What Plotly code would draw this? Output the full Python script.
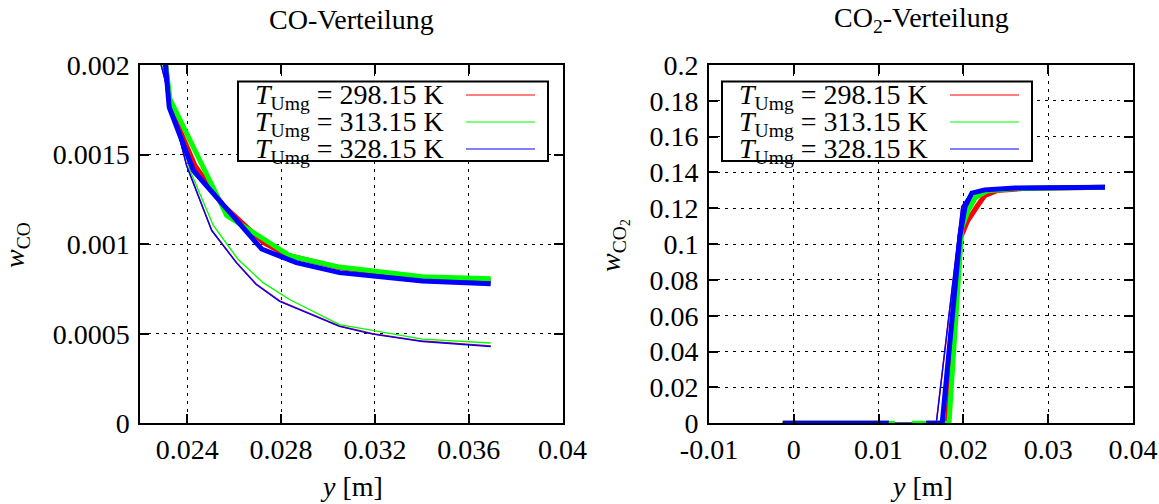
import plotly.graph_objects as go

W, H = 1159, 504

# ---------------- data: CO distribution (left) ----------------
co_thin_red_x   = [0.0225, 0.02397, 0.02504, 0.02609, 0.02694, 0.02794, 0.03049, 0.03191, 0.03403, 0.03694]
co_thin_red_y   = [0.0022, 0.001440, 0.001078, 0.000899, 0.000777, 0.000683, 0.000543, 0.000500, 0.000459, 0.000432]
co_thin_green_x = [0.0225, 0.02412, 0.02511, 0.02616, 0.02723, 0.02836, 0.03049, 0.03403, 0.03694]
co_thin_green_y = [0.0022, 0.001410, 0.001104, 0.000916, 0.000785, 0.000691, 0.000551, 0.000470, 0.000448]
co_thin_blue_x  = [0.0225, 0.02397, 0.02504, 0.02609, 0.02694, 0.02794, 0.03049, 0.03191, 0.03403, 0.03694]
co_thin_blue_y  = [0.0022, 0.001438, 0.001076, 0.000897, 0.000775, 0.000681, 0.000541, 0.000498, 0.000457, 0.000429]

co_thick_red_x   = [0.0228, 0.02325, 0.02433, 0.02554, 0.02724, 0.02822, 0.03049, 0.03403, 0.03694]
co_thick_red_y   = [0.0024, 0.001770, 0.001438, 0.001215, 0.001010, 0.000940, 0.000869, 0.000810, 0.000794]
co_thick_green_x = [0.0227, 0.02326, 0.02568, 0.02838, 0.03049, 0.03403, 0.03694]
co_thick_green_y = [0.0024, 0.001810, 0.001160, 0.000935, 0.000872, 0.000818, 0.000807]
co_thick_blue_x  = [0.0228, 0.02323, 0.02426, 0.02717, 0.02865, 0.03049, 0.03403, 0.03694]
co_thick_blue_y  = [0.0024, 0.001763, 0.001410, 0.000973, 0.000897, 0.000841, 0.000794, 0.000779]

# ---------------- data: CO2 distribution (right) ----------------
co2_thin_red_x   = [-0.0013, 0.0168, 0.0198, 0.0206, 0.0215, 0.0235, 0.0270, 0.0367]
co2_thin_red_y   = [0, 0, 0.120, 0.1262, 0.1288, 0.1302, 0.1312, 0.1318]
co2_thin_green_x = [-0.0013, 0.0183, 0.0198, 0.0207, 0.0217, 0.0235, 0.0270, 0.0367]
co2_thin_green_y = [0, 0, 0.110, 0.122, 0.127, 0.1300, 0.1310, 0.1318]
co2_thin_blue_x  = [-0.0013, 0.0168, 0.0198, 0.0206, 0.0215, 0.0235, 0.0270, 0.0367]
co2_thin_blue_y  = [0, 0, 0.121, 0.1266, 0.1290, 0.1303, 0.1312, 0.1318]

co2_thick_red_x   = [-0.0013, 0.0112, None, 0.0156, 0.0181, 0.0197, 0.0205, 0.0216, 0.0225, 0.0240, 0.0270, 0.0367]
co2_thick_red_y   = [0, 0, None, 0, 0, 0.104, 0.113, 0.121, 0.127, 0.1300, 0.1310, 0.1317]
co2_thick_green_x = [-0.0013, 0.0119, None, 0.0139, 0.0183, 0.0198, 0.0205, 0.0214, 0.0228, 0.0260, 0.0300, 0.0367]
co2_thick_green_y = [0, 0, None, 0, 0, 0.109, 0.118, 0.126, 0.1298, 0.1310, 0.1315, 0.1318]
co2_thick_blue_x  = [-0.0013, 0.0112, None, 0.0156, 0.0175, 0.0196, 0.0202, 0.0210, 0.0225, 0.0261, 0.0300, 0.0367]
co2_thick_blue_y  = [0, 0, None, 0, 0, 0.105, 0.121, 0.1285, 0.1303, 0.1313, 0.1316, 0.1318]

# ---------------- ticks / labels ----------------
co_xticks = [0.024, 0.028, 0.032, 0.036, 0.04]
co_xtext = ["0.024", "0.028", "0.032", "0.036", "0.04"]
co_yticks = [0, 0.0005, 0.001, 0.0015, 0.002]
co_ytext = ["0", "0.0005", "0.001", "0.0015", "0.002"]
co2_xticks = [-0.01, 0, 0.01, 0.02, 0.03, 0.04]
co2_xtext = ["-0.01", "0", "0.01", "0.02", "0.03", "0.04"]
co2_yticks = [0, 0.02, 0.04, 0.06, 0.08, 0.1, 0.12, 0.14, 0.16, 0.18, 0.2]
co2_ytext = ["0", "0.02", "0.04", "0.06", "0.08", "0.1", "0.12", "0.14", "0.16", "0.18", "0.2"]

legend_labels = ["<i>T</i><sub>Umg</sub> = 298.15 K",
                 "<i>T</i><sub>Umg</sub> = 313.15 K",
                 "<i>T</i><sub>Umg</sub> = 328.15 K"]
colors = ["#ff0000", "#00ff00", "#0000ff"]

FONT = "Liberation Serif"
FS = 28
THICK = 5
THIN = 1.4

fig = go.Figure()

def add(x, y, color, width, xa, ya):
    fig.add_trace(go.Scatter(x=x, y=y, mode="lines", line=dict(color=color, width=width),
                             xaxis=xa, yaxis=ya, showlegend=False, hoverinfo="skip",
                             connectgaps=False))

# left panel
add(co_thin_red_x, co_thin_red_y, colors[0], THIN, "x", "y")
add(co_thin_green_x, co_thin_green_y, colors[1], THIN, "x", "y")
add(co_thin_blue_x, co_thin_blue_y, colors[2], THIN, "x", "y")
add(co_thick_red_x, co_thick_red_y, colors[0], THICK, "x", "y")
add(co_thick_green_x, co_thick_green_y, colors[1], THICK, "x", "y")
add(co_thick_blue_x, co_thick_blue_y, colors[2], THICK, "x", "y")
# right panel
add(co2_thin_red_x, co2_thin_red_y, colors[0], THIN, "x2", "y2")
add(co2_thin_green_x, co2_thin_green_y, colors[1], THIN, "x2", "y2")
add(co2_thin_blue_x, co2_thin_blue_y, colors[2], THIN, "x2", "y2")
add(co2_thick_red_x, co2_thick_red_y, colors[0], THICK, "x2", "y2")
add(co2_thick_green_x, co2_thick_green_y, colors[1], THICK, "x2", "y2")
add(co2_thick_blue_x, co2_thick_blue_y, colors[2], THICK, "x2", "y2")

def px(x):
    return x / W

def py(y):
    return 1 - y / H

top, bot = 65, 423.3
L1, R1 = 140.4, 562.5
L2, R2 = 709, 1133

axis_common = dict(showline=True, linecolor="black", linewidth=2, mirror="ticks",
                   ticks="inside", ticklen=9, tickwidth=2, tickcolor="black",
                   showgrid=True, gridcolor="black", gridwidth=1, griddash="3px,5px",
                   zeroline=False, automargin=False,
                   tickfont=dict(family=FONT, size=FS, color="black"))

fig.update_layout(
    template="none",
    width=W, height=H, margin=dict(l=0, r=0, t=0, b=0, autoexpand=False),
    paper_bgcolor="white", plot_bgcolor="white",
    showlegend=False,
    xaxis=dict(domain=[px(L1), px(R1)], range=[0.022, 0.04], tickvals=co_xticks, ticktext=co_xtext,
               anchor="y", ticklabelstandoff=0, **axis_common),
    yaxis=dict(domain=[py(bot), py(top)], range=[0, 0.002], tickvals=co_yticks, ticktext=co_ytext,
               anchor="x", ticklabelstandoff=3, **axis_common),
    xaxis2=dict(domain=[px(L2), px(R2)], range=[-0.01, 0.04], tickvals=co2_xticks, ticktext=co2_xtext,
                anchor="y2", ticklabelstandoff=0, **axis_common),
    yaxis2=dict(domain=[py(bot), py(top)], range=[0, 0.2], tickvals=co2_yticks, ticktext=co2_ytext,
                anchor="x2", ticklabelstandoff=3, **axis_common),
)

font = dict(family=FONT, size=FS, color="black")
ann = []
# titles
ann.append(dict(text="CO-Verteilung", x=px((L1 + R1) / 2), y=py(20), xref="paper", yref="paper",
                showarrow=False, xanchor="center", yanchor="middle", font=font))
ann.append(dict(text="CO<sub>2</sub>-Verteilung", x=px((L2 + R2) / 2), y=py(20), xref="paper", yref="paper",
                showarrow=False, xanchor="center", yanchor="middle", font=font))
# x labels
for cx in [(L1 + R1) / 2, (L2 + R2) / 2]:
    ann.append(dict(text="<i>y</i> [m]", x=px(cx), y=py(486), xref="paper", yref="paper",
                    showarrow=False, xanchor="center", yanchor="middle", font=font))
# y labels
ann.append(dict(text="<i>w</i><sub>CO</sub>", x=px(16), y=py(245), xref="paper", yref="paper",
                showarrow=False, xanchor="center", yanchor="middle", textangle=-90, font=font))
ann.append(dict(text="<i>w</i><sub>CO<sub>2</sub></sub>", x=px(614), y=py(246), xref="paper", yref="paper",
                showarrow=False, xanchor="center", yanchor="middle", textangle=-90, font=font))

shapes = []
row_y = [95, 122, 149]
for bx in [238, 722]:
    shapes.append(dict(type="rect", xref="paper", yref="paper", x0=px(bx), x1=px(bx + 310),
                       y0=py(161), y1=py(81.5), line=dict(color="black", width=2),
                       fillcolor="white", layer="above"))
    for i in range(3):
        ann.append(dict(text=legend_labels[i], x=px(bx + 15), y=py(row_y[i] + 1), xref="paper", yref="paper",
                        showarrow=False, xanchor="left", yanchor="middle", font=font))
        shapes.append(dict(type="line", xref="paper", yref="paper", x0=px(bx + 228), x1=px(bx + 297),
                           y0=py(row_y[i]), y1=py(row_y[i]), line=dict(color=colors[i], width=1.2),
                           layer="above"))

fig.update_layout(annotations=ann, shapes=shapes)
fig.write_html("out.html")
